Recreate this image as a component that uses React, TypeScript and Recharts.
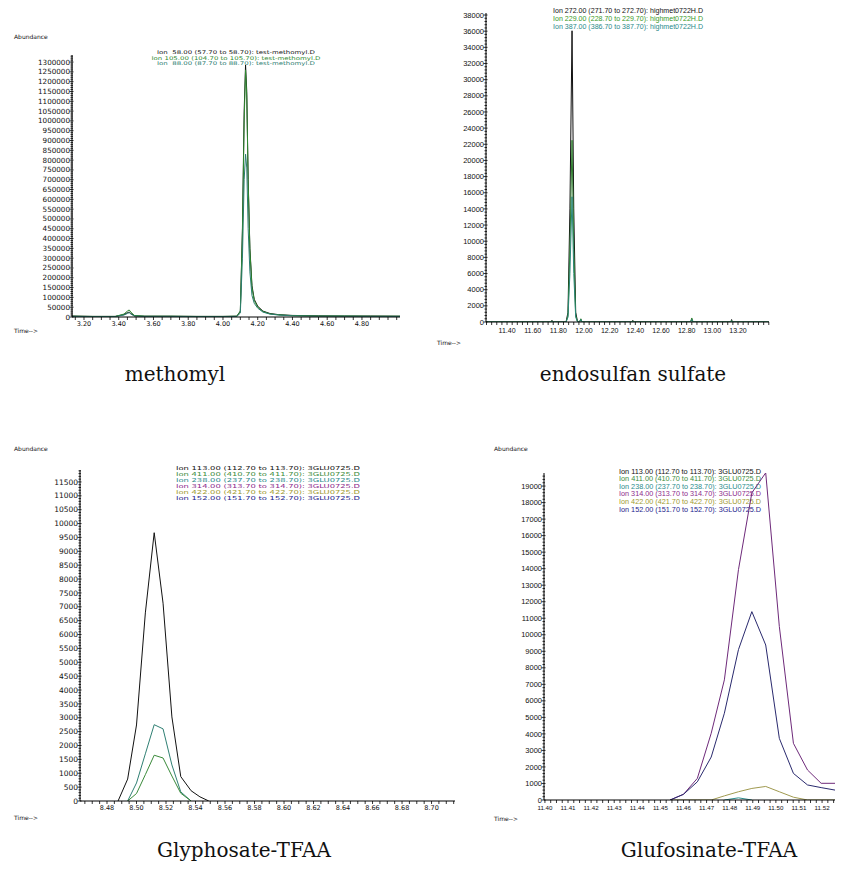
import React from "react";
import { LineChart, Line, XAxis, YAxis } from "recharts";

// methomyl (ions 58 / 105 / 88)
const METHOMYL_TIME = [3.13, 3.25, 3.38, 3.43, 3.45, 3.46, 3.47, 3.49, 3.55, 3.7, 3.85, 4.0, 4.08, 4.1, 4.112, 4.122, 4.13, 4.137, 4.145, 4.155, 4.167, 4.18, 4.2, 4.23, 4.27, 4.32, 4.4, 4.55, 4.7, 4.85, 5.02];
const METHOMYL_ION58 = [5000, 3000, 3000, 12000, 22000, 25000, 18000, 6000, 4000, 4000, 3000, 3000, 4000, 30000, 450000, 1050000, 1285000, 1150000, 700000, 350000, 160000, 90000, 55000, 30000, 18000, 12000, 8000, 6000, 5000, 5000, 4000];
const METHOMYL_ION105 = [4000, 3000, 3000, 15000, 30000, 36000, 25000, 8000, 4000, 4000, 3000, 3000, 4000, 30000, 430000, 1000000, 1260000, 1120000, 690000, 340000, 150000, 85000, 50000, 28000, 16000, 11000, 7000, 5000, 5000, 4000, 4000];
const METHOMYL_ION88 = [3000, 2000, 2000, 10000, 18000, 22000, 15000, 5000, 3000, 3000, 2000, 2000, 3000, 20000, 300000, 700000, 830000, 760000, 450000, 230000, 110000, 70000, 45000, 25000, 15000, 10000, 6000, 4000, 4000, 3000, 3000];
const METHOMYL_X_LABELS = [3.2, 3.4, 3.6, 3.8, 4.0, 4.2, 4.4, 4.6, 4.8];
const METHOMYL_Y_LABELS = [0, 50000, 100000, 150000, 200000, 250000, 300000, 350000, 400000, 450000, 500000, 550000, 600000, 650000, 700000, 750000, 800000, 850000, 900000, 950000, 1000000, 1050000, 1100000, 1150000, 1200000, 1250000, 1300000];
const METHOMYL_LEGEND = ["Ion  58.00 (57.70 to 58.70): test-methomyl.D", "Ion 105.00 (104.70 to 105.70): test-methomyl.D", "Ion  88.00 (87.70 to 88.70): test-methomyl.D"];

// endosulfan sulfate (ions 272 / 229 / 387)
const ENDO_TIME = [11.236, 11.5, 11.745, 11.75, 11.755, 11.86, 11.875, 11.89, 11.9065, 11.92, 11.935, 11.95, 11.965, 11.975, 11.985, 12.2, 12.375, 12.38, 12.385, 12.83, 12.84, 12.85, 13.145, 13.15, 13.155, 13.44];
const ENDO_ION272 = [0, 0, 0, 200, 0, 0, 1200, 14000, 36050, 14000, 1200, 0, 0, 300, 0, 0, 0, 200, 0, 0, 300, 0, 0, 300, 0, 0];
const ENDO_ION229 = [0, 0, 0, 150, 0, 0, 800, 9000, 22500, 9000, 800, 0, 0, 400, 0, 0, 0, 150, 0, 0, 500, 0, 0, 200, 0, 0];
const ENDO_ION387 = [0, 0, 0, 100, 0, 0, 600, 6000, 15500, 6000, 600, 0, 0, 300, 0, 0, 0, 100, 0, 0, 300, 0, 0, 150, 0, 0];
const ENDO_X_LABELS = [11.4, 11.6, 11.8, 12.0, 12.2, 12.4, 12.6, 12.8, 13.0, 13.2];
const ENDO_Y_LABELS = [0, 2000, 4000, 6000, 8000, 10000, 12000, 14000, 16000, 18000, 20000, 22000, 24000, 26000, 28000, 30000, 32000, 34000, 36000, 38000];
const ENDO_LEGEND = ["Ion 272.00 (271.70 to 272.70): highmet0722H.D", "Ion 229.00 (228.70 to 229.70): highmet0722H.D", "Ion 387.00 (386.70 to 387.70): highmet0722H.D"];

// Glyphosate-TFAA
const GLY_TIME = [8.4617, 8.4875, 8.494, 8.5, 8.506, 8.512, 8.518, 8.524, 8.53, 8.537, 8.543, 8.549, 8.7159];
const GLY_ION113 = [null, 0, 790, 2740, 6780, 9670, 7130, 3030, 880, 370, 150, 0, null];
const GLY_ION238 = [null, null, 0, 650, 1700, 2750, 2600, 1300, 330, 0, null, null, null];
const GLY_ION411 = [null, null, 0, 270, 950, 1650, 1550, 900, 280, 0, null, null, null];
const GLY_X_LABELS = [8.48, 8.5, 8.52, 8.54, 8.56, 8.58, 8.6, 8.62, 8.64, 8.66, 8.68, 8.7];
const GLY_Y_LABELS = [0, 500, 1000, 1500, 2000, 2500, 3000, 3500, 4000, 4500, 5000, 5500, 6000, 6500, 7000, 7500, 8000, 8500, 9000, 9500, 10000, 10500, 11000, 11500];

// Glufosinate-TFAA
const GLU_TIME = [11.4542, 11.46, 11.466, 11.472, 11.4777, 11.4838, 11.4896, 11.4956, 11.5015, 11.5076, 11.5137, 11.5196, 11.5256];
const GLU_ION314 = [0, 345, 1310, 4040, 7270, 13940, 18590, 19800, 10500, 3430, 1815, 1010, 1010];
const GLU_ION152 = [0, 345, 1100, 2600, 5250, 9100, 11400, 9380, 3730, 1610, 910, 750, 600];
const GLU_ION422 = [0, 0, 0, 0, 250, 500, 700, 820, 500, 170, 0, 0, 0];
const GLU_ION238 = [null, null, null, null, 0, 130, 0, null, null, null, null, null, null];
const GLU_X_LABELS = [11.4, 11.41, 11.42, 11.43, 11.44, 11.45, 11.46, 11.47, 11.48, 11.49, 11.5, 11.51, 11.52];
const GLU_Y_LABELS = [0, 1000, 2000, 3000, 4000, 5000, 6000, 7000, 8000, 9000, 10000, 11000, 12000, 13000, 14000, 15000, 16000, 17000, 18000, 19000];

const GLU_LEGEND = ["Ion 113.00 (112.70 to 113.70): 3GLU0725.D", "Ion 411.00 (410.70 to 411.70): 3GLU0725.D", "Ion 238.00 (237.70 to 238.70): 3GLU0725.D", "Ion 314.00 (313.70 to 314.70): 3GLU0725.D", "Ion 422.00 (421.70 to 422.70): 3GLU0725.D", "Ion 152.00 (151.70 to 152.70): 3GLU0725.D"];
const ION_COLORS = ["#111111", "#3c8c3c", "#2a8c8c", "#8c2a8c", "#a09a30", "#1c1c8c"];

const CAPTIONS = ["methomyl", "endosulfan sulfate", "Glyphosate-TFAA", "Glufosinate-TFAA"];

const rows = (time: number[], series: Record<string, (number | null)[]>) =>
  time.map((t, i) => {
    const r: Record<string, number | null> = { t };
    Object.keys(series).forEach((k) => (r[k] = series[k][i]));
    return r;
  });

function minorTicks(d0: number, d1: number, step: number) {
  const out: number[] = [];
  for (let k = Math.ceil(d0 / step - 1e-9); k * step <= d1 + 1e-9; k++) {
    out.push(Number((k * step).toFixed(6)));
  }
  return out;
}

const isMajor = (v: number, majors: number[]) => majors.some((m) => Math.abs(m - v) < 1e-6);

interface PanelCfg {
  left: number;
  top: number;
  width: number;
  height: number;
  plotLeft: number;
  plotRight: number;
  plotTop: number;
  plotBottom: number;
  xDomain: [number, number];
  yDomain: [number, number];
  xLabels: number[];
  yLabels: number[];
  xStep: number;
  yStep: number;
  font: string;
  xSize: number;
  ySize: number;
  xDy: number;
  data: Record<string, number | null>[];
  lines: { key: string; color: string }[];
}

function Panel({ cfg }: { cfg: PanelCfg }) {
  const xTicks = minorTicks(cfg.xDomain[0], cfg.xDomain[1], cfg.xStep);
  const yTicks = minorTicks(cfg.yDomain[0], cfg.yDomain[1], cfg.yStep);

  const renderY = (p: any) => {
    const { x, y, payload } = p;
    const major = isMajor(payload.value, cfg.yLabels);
    return (
      <g>
        <line x1={x - (major ? 2.5 : 1.5)} x2={x + (major ? 1.5 : 1)} y1={y} y2={y} stroke="#000" strokeWidth={0.8} />
        {major && (
          <text x={x - 2} y={y} dy="0.35em" textAnchor="end" fontSize={cfg.ySize} fontFamily={cfg.font} fill="#111">
            {payload.value}
          </text>
        )}
      </g>
    );
  };

  const renderX = (p: any) => {
    const { x, y, payload } = p;
    const major = isMajor(payload.value, cfg.xLabels);
    return (
      <g>
        <line x1={x} x2={x} y1={y} y2={y + 3} stroke="#000" strokeWidth={0.8} />
        {major && (
          <text x={x} y={y + cfg.xDy} textAnchor="middle" fontSize={cfg.xSize} fontFamily={cfg.font} fill="#111">
            {payload.value.toFixed(2)}
          </text>
        )}
      </g>
    );
  };

  return (
    <div style={{ position: "absolute", left: cfg.left, top: cfg.top }}>
      <LineChart
        width={cfg.width}
        height={cfg.height}
        data={cfg.data}
        margin={{ top: cfg.plotTop - cfg.top, right: cfg.left + cfg.width - cfg.plotRight, bottom: 0, left: 0 }}
      >
        <XAxis
          dataKey="t"
          type="number"
          domain={cfg.xDomain}
          ticks={xTicks}
          interval={0}
          allowDataOverflow
          height={cfg.top + cfg.height - cfg.plotBottom}
          tickSize={0}
          tickMargin={0}
          tickLine={false}
          axisLine={{ stroke: "#000", strokeWidth: 1 }}
          tick={renderX}
        />
        <YAxis
          type="number"
          domain={cfg.yDomain}
          ticks={yTicks}
          interval={0}
          allowDataOverflow
          width={cfg.plotLeft - cfg.left}
          tickSize={0}
          tickMargin={0}
          tickLine={false}
          axisLine={{ stroke: "#000", strokeWidth: 1 }}
          tick={renderY}
        />
        {cfg.lines.map((l) => (
          <Line
            key={l.key}
            type="linear"
            dataKey={l.key}
            stroke={l.color}
            strokeWidth={1}
            dot={false}
            activeDot={false}
            isAnimationActive={false}
          />
        ))}
      </LineChart>
    </div>
  );
}

const panels: PanelCfg[] = [
  {
    left: 0, top: 40, width: 420, height: 300,
    plotLeft: 72, plotRight: 400, plotTop: 55, plotBottom: 317,
    xDomain: [3.131, 5.019], yDomain: [0, 1336000],
    xLabels: METHOMYL_X_LABELS, yLabels: METHOMYL_Y_LABELS, xStep: 0.05, yStep: 10000,
    font: "DejaVu Sans", xSize: 6.5, ySize: 7.2, xDy: 9,
    data: rows(METHOMYL_TIME, { a: METHOMYL_ION58, b: METHOMYL_ION105, c: METHOMYL_ION88 }),
    lines: [{ key: "a", color: "#111111" }, { key: "b", color: "#2f8a30" }, { key: "c", color: "#2c7d70" }],
  },
  {
    left: 420, top: 0, width: 428, height: 350,
    plotLeft: 486, plotRight: 769, plotTop: 13, plotBottom: 322,
    xDomain: [11.236, 13.4416], yDomain: [0, 38250],
    xLabels: ENDO_X_LABELS, yLabels: ENDO_Y_LABELS, xStep: 0.04, yStep: 400,
    font: "Liberation Sans", xSize: 7, ySize: 7.5, xDy: 11,
    data: rows(ENDO_TIME, { a: ENDO_ION272, b: ENDO_ION229, c: ENDO_ION387 }),
    lines: [{ key: "a", color: "#111111" }, { key: "b", color: "#2f7d2f" }, { key: "c", color: "#2a8878" }],
  },
  {
    left: 0, top: 440, width: 460, height: 385,
    plotLeft: 80, plotRight: 455, plotTop: 470, plotBottom: 801,
    xDomain: [8.4617, 8.7159], yDomain: [0, 11930],
    xLabels: GLY_X_LABELS, yLabels: GLY_Y_LABELS, xStep: 0.005, yStep: 100,
    font: "DejaVu Sans", xSize: 6.5, ySize: 7.5, xDy: 9,
    data: rows(GLY_TIME, { a: GLY_ION113, b: GLY_ION238, c: GLY_ION411 }),
    lines: [{ key: "a", color: "#111111" }, { key: "b", color: "#2f7f73" }, { key: "c", color: "#3a8a3a" }],
  },
  {
    left: 420, top: 440, width: 428, height: 385,
    plotLeft: 544, plotRight: 835, plotTop: 473, plotBottom: 800,
    xDomain: [11.3996, 11.5256], yDomain: [0, 19790],
    xLabels: GLU_X_LABELS, yLabels: GLU_Y_LABELS, xStep: 0.0025, yStep: 200,
    font: "Liberation Sans", xSize: 6.2, ySize: 7.5, xDy: 10,
    data: rows(GLU_TIME, { a: GLU_ION422, b: GLU_ION238, c: GLU_ION314, d: GLU_ION152 }),
    lines: [{ key: "a", color: "#a09a50" }, { key: "b", color: "#2a8c8c" }, { key: "c", color: "#6e2a7a" }, { key: "d", color: "#2a2a6e" }],
  },
];

export default function App() {
  const small = { fontFamily: "DejaVu Sans", fontSize: 6, fill: "#111" };
  const caption = { fontFamily: "DejaVu Serif", fontSize: 20, fill: "#111", textAnchor: "middle" as const };
  return (
    <div style={{ position: "absolute", left: 0, top: 0, width: 848, height: 874, background: "#fff" }}>
      <svg width={848} height={874} style={{ position: "absolute", left: 0, top: 0 }}>
        <text x={14} y={39} {...small}>Abundance</text>
        <text x={14} y={333} {...small}>Time--&gt;</text>
        <text x={437} y={345} {...small}>Time--&gt;</text>
        <text x={14} y={451} {...small}>Abundance</text>
        <text x={14} y={820} {...small}>Time--&gt;</text>
        <text x={494} y={451} {...small}>Abundance</text>
        <text x={494} y={821} {...small}>Time--&gt;</text>

        {METHOMYL_LEGEND.map((s, i) => (
          <text key={s} x={236} y={54 + i * 5.6} textAnchor="middle" fontFamily="DejaVu Sans" fontSize={5.2}
            textLength={i === 1 ? 169 : 158} lengthAdjust="spacingAndGlyphs" style={{ whiteSpace: "pre" }}
            fill={["#111111", "#2f8a30", "#2c7d70"][i]}>{s}</text>
        ))}
        {ENDO_LEGEND.map((s, i) => (
          <text key={s} x={553} y={12.5 + i * 8} fontFamily="Liberation Sans" fontSize={7.5}
            textLength={150} lengthAdjust="spacingAndGlyphs"
            fill={["#111111", "#3a9a2a", "#2a8a8a"][i]}>{s}</text>
        ))}
        {GLU_LEGEND.map((s, i) => (
          <text key={"g" + s} x={176} y={469.5 + i * 6.1} fontFamily="DejaVu Sans" fontSize={5.4}
            textLength={184} lengthAdjust="spacingAndGlyphs" fill={ION_COLORS[i]}>{s}</text>
        ))}
        {GLU_LEGEND.map((s, i) => (
          <text key={"u" + s} x={619} y={473.5 + i * 7.6} fontFamily="Liberation Sans" fontSize={7.2}
            textLength={142} lengthAdjust="spacingAndGlyphs" fill={ION_COLORS[i]}>{s}</text>
        ))}

        <text x={175} y={381} {...caption}>{CAPTIONS[0]}</text>
        <text x={633} y={381} {...caption}>{CAPTIONS[1]}</text>
        <text x={244} y={857} {...caption}>{CAPTIONS[2]}</text>
        <text x={709} y={857} {...caption}>{CAPTIONS[3]}</text>
      </svg>
      {panels.map((p, i) => (
        <Panel key={i} cfg={p} />
      ))}
    </div>
  );
}
